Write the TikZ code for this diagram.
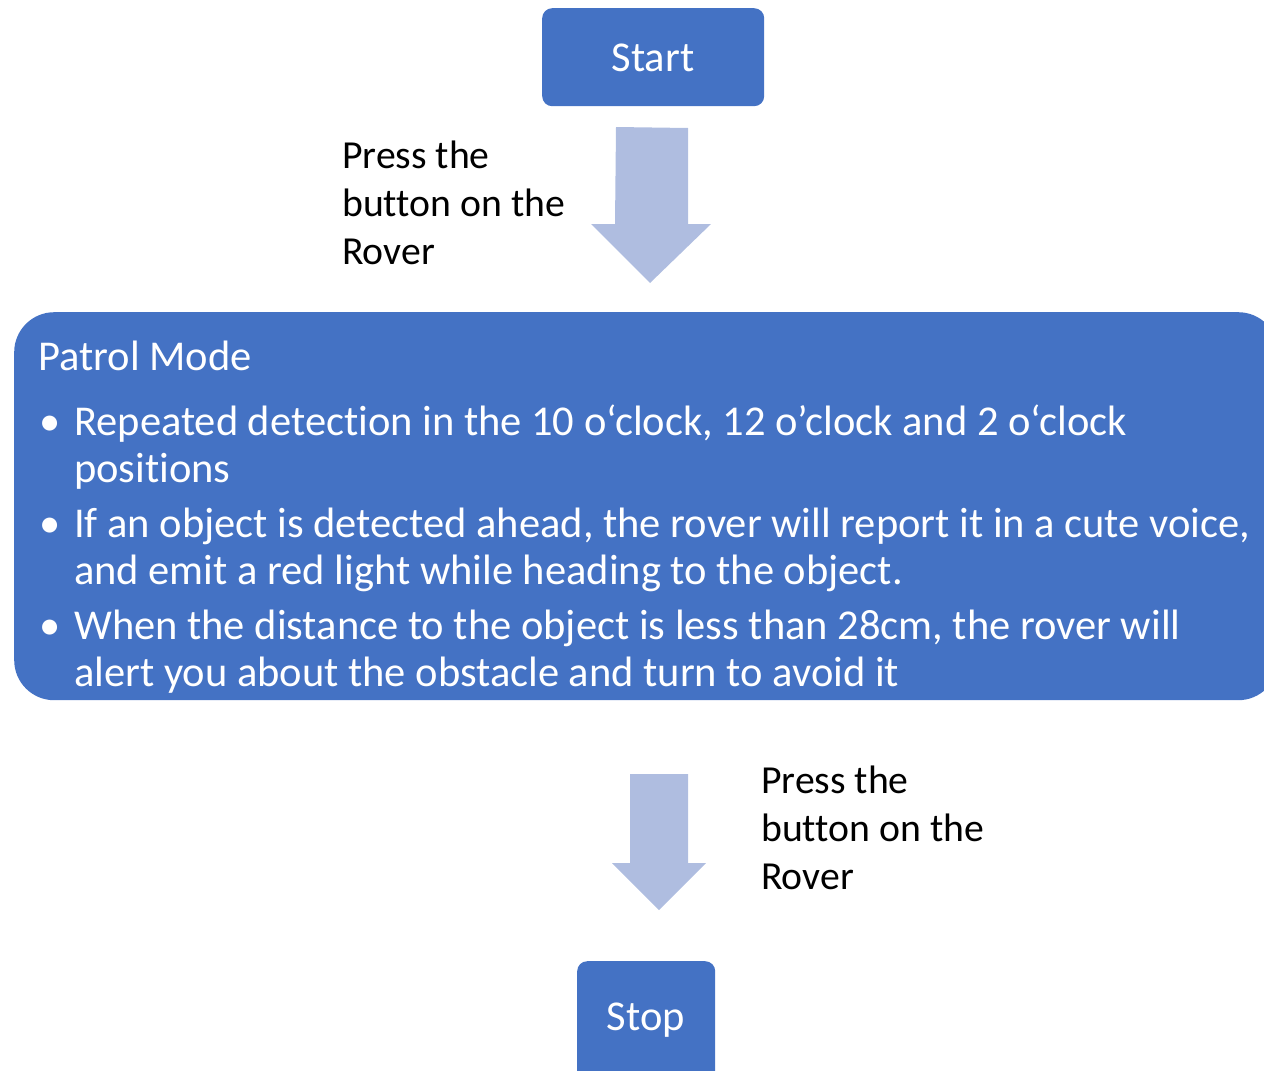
\documentclass[tikz,border=0pt]{standalone}
\usepackage{fontspec}
\setmainfont{Carlito}[Ligatures=NoCommon]
\definecolor{boxblue}{HTML}{4472C4}
\definecolor{arrowblue}{HTML}{AFBDE0}
\begin{document}
\begin{tikzpicture}[x=1bp,y=-1bp,
  bluebox/.style={fill=boxblue,draw=none,text=white,inner sep=0pt},
  boxtext/.style={text=white,inner sep=0pt,font=\fontsize{42.5bp}{50bp}\selectfont},
  bodytext/.style={text=white,inner sep=0pt,anchor=base west,align=left,font=\fontsize{42.5bp}{47bp}\selectfont},
  labeltext/.style={text=black,inner sep=0pt,anchor=base west,align=left,font=\fontsize{39.7bp}{48bp}\selectfont},
  blockarrow/.style={fill=arrowblue,draw=none}]
\useasboundingbox (0,0) rectangle (1264,1071);
\clip (0,0) rectangle (1264,1071);
% boxes
\node[bluebox,rounded corners=10bp,minimum width=222bp,minimum height=98bp,anchor=north west] (start) at (542,8) {};
\node[boxtext] (starttext) at (653,58) {Start};
\node[bluebox,rounded corners=40bp,minimum width=1264bp,minimum height=388bp,anchor=north west] (patrol) at (14,312) {};
\node[bluebox,rounded corners=10bp,minimum width=138bp,minimum height=120bp,anchor=north west] (stop) at (577,961) {};
\node[boxtext] (stoptext) at (646,1020) {Stop};
% block arrows
\path[blockarrow] (616,127) -- (688,128) -- (688,224) -- (711,224) -- (650,283) -- (591,224) -- (615,224) -- cycle;
\path[blockarrow] (630,774) -- (688,774) -- (688,863) -- (706,863) -- (659,910) -- (612,863) -- (630,863) -- cycle;
% labels (anchor = baseline of last line)
\node[labeltext] (lab1) at (342,264) {Press the\\button on the\\Rover};
\node[labeltext] (lab2) at (761,889) {Press the\\button on the\\Rover};
% patrol text
\node[text=white,inner sep=0pt,anchor=base west,font=\fontsize{42.5bp}{48bp}\selectfont] (title) at (38,370) {Patrol Mode};
\node[bodytext] (dot1) at (39,435) {•};
\node[bodytext] (b1) at (74,482) {Repeated detection in the 10 o‘clock, 12 o’clock and 2 o‘clock\\positions};
\node[bodytext] (dot2) at (39,537) {•};
\node[bodytext] (b2) at (74,584) {If an object is detected ahead, the rover will report it in a cute voice,\\and emit a red light while heading to the object.};
\node[bodytext] (dot3) at (39,639) {•};
\node[bodytext] (b3) at (74,686) {When the distance to the object is less than 28cm, the rover will\\alert you about the obstacle and turn to avoid it};
\end{tikzpicture}
\end{document}
